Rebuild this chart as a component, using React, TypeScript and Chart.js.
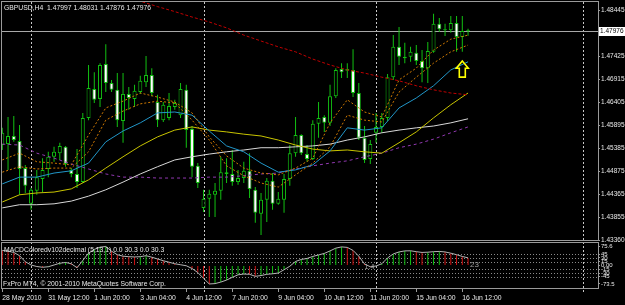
import React, { useEffect, useRef } from 'react';
import { Chart, registerables } from 'chart.js';

Chart.register(...registerables);

const FONT = '"Liberation Sans", Arial, sans-serif';
const TEXT = '#e8e8e8';
const FRAME = '#9a9a9a';
const CANDLE = '#12c012';

const titleText = 'GBPUSD,H4  1.47997 1.48031 1.47876 1.47976';
const macdTitle = 'MACDColoredv102decimal (5,13,1) 0.0 30.3 0.0 30.3';
const copyright = 'FxPro MT4, \u00a9 2001-2010 MetaQuotes Software Corp.';

// H4 bars, index 0 = 28 May 2010 04:00
const opens = [
  1.4546, 1.4548, 1.4566, 1.4555, 1.4495, 1.4416, 1.4445, 1.4471, 1.4493, 1.4520,
  1.4528, 1.4542, 1.4491, 1.4482, 1.4464, 1.4606, 1.4670, 1.4648, 1.4725, 1.4683,
  1.4668, 1.4599, 1.4659, 1.4648, 1.4663, 1.4685, 1.4701, 1.4641, 1.4601, 1.4606,
  1.4630, 1.4612, 1.4668, 1.4582, 1.4500, 1.4407, 1.4427, 1.4436, 1.4445, 1.4486,
  1.4482, 1.4464, 1.4473, 1.4489, 1.4447, 1.4394, 1.4425, 1.4467, 1.4416, 1.4425,
  1.4471, 1.4528, 1.4568, 1.4526, 1.4515, 1.4593, 1.4608, 1.4595, 1.4654, 1.4714,
  1.4714, 1.4712, 1.4661, 1.4562, 1.4515, 1.4573, 1.4586, 1.4606, 1.4696, 1.4763,
  1.4738, 1.4741, 1.4750, 1.4732, 1.4716, 1.4752, 1.4814, 1.4802, 1.4800, 1.4816,
  1.4785, 1.47997,
];
const highs = [
  1.4584, 1.4608, 1.4610, 1.4590, 1.4502, 1.4451, 1.4491, 1.4517, 1.4531, 1.4542,
  1.4551, 1.4544, 1.4495, 1.4537, 1.4617, 1.4723, 1.4707, 1.4727, 1.4769, 1.4690,
  1.4705, 1.4705, 1.4674, 1.4679, 1.4699, 1.4743, 1.4716, 1.4657, 1.4641, 1.4661,
  1.4646, 1.4683, 1.4679, 1.4588, 1.4506, 1.4447, 1.4447, 1.4462, 1.4520, 1.4517,
  1.4535, 1.4491, 1.4509, 1.4528, 1.4453, 1.4440, 1.4473, 1.4484, 1.4442, 1.4482,
  1.4546, 1.4608, 1.4570, 1.4546, 1.4601, 1.4641, 1.4612, 1.4679, 1.4716, 1.4727,
  1.4727, 1.4758, 1.4683, 1.4588, 1.4557, 1.4617, 1.4617, 1.4703, 1.4789, 1.4807,
  1.4772, 1.4763, 1.4767, 1.4756, 1.4774, 1.4836, 1.4827, 1.4814, 1.4831, 1.4831,
  1.4831, 1.48031,
];
const lows = [
  1.4535, 1.4491, 1.4553, 1.4436, 1.4440, 1.4403, 1.4436, 1.4442, 1.4475, 1.4509,
  1.4513, 1.4498, 1.4475, 1.4451, 1.4462, 1.4601, 1.4639, 1.4630, 1.4663, 1.4663,
  1.4586, 1.4551, 1.4624, 1.4630, 1.4659, 1.4674, 1.4654, 1.4586, 1.4597, 1.4601,
  1.4624, 1.4606, 1.4540, 1.4475, 1.4451, 1.4398, 1.4387, 1.4387, 1.4425, 1.4462,
  1.4456, 1.4458, 1.4462, 1.4429, 1.4374, 1.4347, 1.4376, 1.4403, 1.4414, 1.4396,
  1.4456, 1.4520, 1.4524, 1.4509, 1.4513, 1.4562, 1.4575, 1.4588, 1.4650, 1.4694,
  1.4694, 1.4652, 1.4557, 1.4506, 1.4504, 1.4551, 1.4573, 1.4599, 1.4690, 1.4723,
  1.4727, 1.4730, 1.4723, 1.4685, 1.4683, 1.4750, 1.4796, 1.4787, 1.4794, 1.4752,
  1.4752, 1.47876,
];
const closes = [
  1.4573, 1.4566, 1.4557, 1.4493, 1.4456, 1.4447, 1.4475, 1.4491, 1.4520, 1.4531,
  1.4544, 1.4504, 1.4482, 1.4464, 1.4606, 1.4672, 1.4646, 1.4723, 1.4683, 1.4668,
  1.4601, 1.4659, 1.4650, 1.4666, 1.4688, 1.4701, 1.4661, 1.4601, 1.4635, 1.4632,
  1.4639, 1.4670, 1.4579, 1.4498, 1.4462, 1.4427, 1.4438, 1.4445, 1.4486, 1.4482,
  1.4464, 1.4473, 1.4489, 1.4449, 1.4396, 1.4425, 1.4467, 1.4416, 1.4427, 1.4471,
  1.4528, 1.4568, 1.4528, 1.4515, 1.4593, 1.4606, 1.4595, 1.4654, 1.4712, 1.4707,
  1.4710, 1.4661, 1.4562, 1.4513, 1.4548, 1.4586, 1.4606, 1.4696, 1.4763, 1.4741,
  1.4741, 1.4752, 1.4732, 1.4716, 1.4754, 1.4814, 1.4802, 1.4800, 1.4816, 1.4785,
  1.4798, 1.47976,
];

// indicator lines, sampled at these bar indices
const maBars = [0, 3, 6, 9, 12, 15, 18, 21, 24, 27, 30, 33, 36, 39, 42, 45, 48, 51, 54, 57, 60, 63, 66, 69, 72, 75, 78, 81];
const maCyan = [1.4460, 1.4475, 1.4475, 1.4484, 1.4489, 1.4506, 1.4553, 1.4577, 1.4595, 1.4617, 1.4619, 1.4612, 1.4577, 1.4544, 1.4531, 1.4506, 1.4486, 1.4491, 1.4502, 1.4533, 1.4584, 1.4579, 1.4584, 1.4628, 1.4650, 1.4677, 1.4712, 1.4730];
const maYellow = [1.4420, 1.4436, 1.4440, 1.4442, 1.4449, 1.4469, 1.4495, 1.4520, 1.4544, 1.4564, 1.4579, 1.4586, 1.4579, 1.4575, 1.4570, 1.4566, 1.4557, 1.4546, 1.4537, 1.4533, 1.4535, 1.4531, 1.4528, 1.4551, 1.4575, 1.4606, 1.4635, 1.4661];
const maWhite = [1.4407, 1.4414, 1.4414, 1.4416, 1.4422, 1.4433, 1.4447, 1.4464, 1.4482, 1.4498, 1.4513, 1.4520, 1.4526, 1.4531, 1.4535, 1.4540, 1.4540, 1.4542, 1.4544, 1.4548, 1.4557, 1.4564, 1.4573, 1.4579, 1.4584, 1.4588, 1.4595, 1.4604];
const maPurple = [1.4548, 1.4546, 1.4528, 1.4517, 1.4504, 1.4493, 1.4482, 1.4475, 1.4475, 1.4473, 1.4473, 1.4473, 1.4475, 1.4475, 1.4478, 1.4482, 1.4484, 1.4493, 1.4500, 1.4506, 1.4511, 1.4520, 1.4528, 1.4540, 1.4548, 1.4559, 1.4573, 1.4586];
const maRed = [null, null, null, null, null, null, null, 1.4875, 1.4864, 1.4852, 1.4841, 1.4829, 1.4818, 1.4805, 1.4789, 1.4776, 1.4763, 1.4752, 1.4736, 1.4723, 1.4712, 1.4705, 1.4696, 1.4688, 1.4677, 1.4668, 1.4661, 1.4657];
const bandUpper = [1.4513, 1.4528, 1.4509, 1.4506, 1.4502, 1.4568, 1.4628, 1.4643, 1.4661, 1.4652, 1.4641, 1.4617, 1.4564, 1.4522, 1.4495, 1.4484, 1.4480, 1.4495, 1.4517, 1.4595, 1.4646, 1.4619, 1.4608, 1.4690, 1.4716, 1.4756, 1.4780, 1.4789];
const bandLower = [1.4486, 1.4498, 1.4493, 1.4495, 1.4495, 1.4531, 1.4601, 1.4621, 1.4637, 1.4643, 1.4639, 1.4601, 1.4557, 1.4500, 1.4478, 1.4462, 1.4453, 1.4480, 1.4506, 1.4542, 1.4612, 1.4601, 1.4597, 1.4663, 1.4696, 1.4727, 1.4752, 1.4767];

const macdValues = [
  60, 57, 52, 39, 15, 2, -4, -7, -5, 2,
  9, 12, 7, -9, 20, 49, 64, 73, 75.6, 57,
  43, 37, 35, 34, 35, 39, 33, 26, 19, 13,
  7, 3, -1, -12, -28, -51, -73.5, -72, -66, -58,
  -47, -37, -34, -35, -43, -40, -35, -33, -30, -17,
  -3, 16, 24, 28, 36, 42, 48, 58, 69, 74,
  72, 60, 37, 6, -5, -2, 7, 30, 46, 54,
  58, 58.5, 55, 52, 53, 55, 56, 54, 49, 43,
  36, 30.3,
];
const macdTicks = [75.6, 45, 30, 15, 0, -15, -30, -45, -73.5];
const macdLevels = [45, 30, 15, -15, -30, -45];

const tickBars = [0, 8, 16, 24, 32, 40, 48, 56, 64, 72, 80];
const tickLabels = ['28 May 2010', '31 May 12:00', '1 Jun 20:00', '3 Jun 04:00', '4 Jun 12:00', '7 Jun 20:00', '9 Jun 04:00', '10 Jun 12:00', '11 Jun 20:00', '15 Jun 04:00', '16 Jun 12:00'];
const priceTicks = [1.48445, 1.47425, 1.46915, 1.46405, 1.45895, 1.45385, 1.44875, 1.44365, 1.43855, 1.4336];
const separatorBars = [5, 35, 65, 101];
const bidPrice = 1.47976;
const arrowBar = 80;
const arrowTip = 1.4732;
const arrowBase = 1.4696;

const X_MIN = -0.05;
const X_MAX = 103.6;
const Y_MIN = 1.4336;
const Y_MAX = 1.48622;

const barIdx = opens.map((_, i) => i);
const lineData = (vals: (number | null)[]) => maBars.map((b, k) => ({ x: b, y: vals[k] }));

function font(size: number) {
  return `${size}px ${FONT}`;
}

function noPad(s: any) {
  s.paddingTop = 0;
  s.paddingBottom = 0;
  s.paddingLeft = 0;
  s.paddingRight = 0;
}

function drawSeparators(chart: any, y0: number, y1: number) {
  const { ctx, scales } = chart;
  ctx.save();
  ctx.strokeStyle = '#c8c8c8';
  ctx.lineWidth = 1;
  ctx.setLineDash([2, 2]);
  separatorBars.forEach((b) => {
    const px = Math.round(scales.x.getPixelForValue(b)) + 0.5;
    ctx.beginPath();
    ctx.moveTo(px, y0);
    ctx.lineTo(px, y1);
    ctx.stroke();
  });
  ctx.restore();
}

const mainDecor = {
  id: 'mainDecor',
  beforeDatasetsDraw(chart: any) {
    const { ctx, chartArea: a, scales } = chart;
    drawSeparators(chart, a.top, chart.height);
    ctx.save();
    const by = Math.round(scales.y.getPixelForValue(bidPrice)) + 0.5;
    ctx.strokeStyle = '#a8a8a8';
    ctx.lineWidth = 1;
    ctx.beginPath();
    ctx.moveTo(a.left, by);
    ctx.lineTo(a.right, by);
    ctx.stroke();
    ctx.restore();
  },
  afterDraw(chart: any) {
    const { ctx, chartArea: a, scales } = chart;
    ctx.save();
    ctx.strokeStyle = FRAME;
    ctx.lineWidth = 1;
    ctx.strokeRect(a.left - 0.5, a.top - 0.5, a.right - a.left + 1, a.bottom - a.top + 1);

    // bid label
    const by = scales.y.getPixelForValue(bidPrice);
    ctx.fillStyle = '#ffffff';
    ctx.fillRect(a.right + 1, Math.round(by) - 4, chart.width - a.right - 1, 9);
    ctx.fillStyle = '#000000';
    ctx.font = font(6.5);
    ctx.textBaseline = 'middle';
    ctx.textAlign = 'left';
    ctx.fillText(bidPrice.toFixed(5), a.right + 2, Math.round(by) + 0.5);

    // title
    ctx.fillStyle = TEXT;
    ctx.font = font(6.8);
    ctx.fillText(titleText, 4, 8.5);

    // arrow
    const ax = scales.x.getPixelForValue(arrowBar);
    const tipY = scales.y.getPixelForValue(arrowTip);
    const baseY = scales.y.getPixelForValue(arrowBase);
    const headY = tipY + (baseY - tipY) * 0.45;
    ctx.strokeStyle = '#ffff00';
    ctx.lineWidth = 1.6;
    ctx.beginPath();
    ctx.moveTo(ax, tipY);
    ctx.lineTo(ax + 6, headY);
    ctx.lineTo(ax + 3, headY);
    ctx.lineTo(ax + 3, baseY);
    ctx.lineTo(ax - 3, baseY);
    ctx.lineTo(ax - 3, headY);
    ctx.lineTo(ax - 6, headY);
    ctx.closePath();
    ctx.stroke();
    ctx.restore();
  },
};

const macdDecor = {
  id: 'macdDecor',
  beforeDatasetsDraw(chart: any) {
    const { ctx, chartArea: a, scales } = chart;
    drawSeparators(chart, 0, a.bottom + 5);
    ctx.save();
    ctx.strokeStyle = '#8a8a8a';
    ctx.lineWidth = 1;
    ctx.setLineDash([1, 2]);
    macdLevels.forEach((v) => {
      const py = Math.round(scales.y.getPixelForValue(v)) + 0.5;
      ctx.beginPath();
      ctx.moveTo(a.left, py);
      ctx.lineTo(a.right, py);
      ctx.stroke();
    });
    ctx.restore();
  },
  afterDraw(chart: any) {
    const { ctx, chartArea: a, scales } = chart;
    ctx.save();
    ctx.strokeStyle = FRAME;
    ctx.lineWidth = 1;
    ctx.strokeRect(a.left - 0.5, a.top - 0.5, a.right - a.left + 1, a.bottom - a.top + 1);
    ctx.fillStyle = TEXT;
    ctx.font = font(6.8);
    ctx.textBaseline = 'middle';
    ctx.textAlign = 'left';
    ctx.fillText(macdTitle, 4, a.top + 7);
    ctx.fillText(copyright, 3, a.bottom - 4);
    ctx.fillStyle = '#a0a0a0';
    ctx.font = font(8);
    const lastIdx = macdValues.length - 1;
    ctx.fillText('23', scales.x.getPixelForValue(lastIdx) + 2, scales.y.getPixelForValue(0) - 1);
    ctx.font = font(7);
    ctx.fillText('1.4', scales.x.getPixelForValue(63), scales.y.getPixelForValue(-6));
    ctx.restore();
  },
};

export default function App() {
  const mainRef = useRef<HTMLCanvasElement>(null);
  const macdRef = useRef<HTMLCanvasElement>(null);

  useEffect(() => {
    Chart.defaults.font.family = FONT;
    const wickData = barIdx.map((i) => ({ x: i, y: [lows[i], highs[i]] }));
    const bodyData = barIdx.map((i) => ({ x: i, y: [opens[i], closes[i]] }));
    const bodyFill = barIdx.map((i) => (closes[i] < opens[i] ? '#ffffff' : '#000000'));

    const main = new Chart(mainRef.current as HTMLCanvasElement, {
      type: 'bar',
      data: {
        datasets: [
          { type: 'line', data: lineData(maRed), borderColor: '#c00000', borderWidth: 1, borderDash: [3, 2], pointRadius: 0, order: 0 } as any,
          { type: 'line', data: lineData(bandUpper), borderColor: '#d07a00', borderWidth: 1, borderDash: [2, 2], pointRadius: 0, order: 0 } as any,
          { type: 'line', data: lineData(bandLower), borderColor: '#d07a00', borderWidth: 1, borderDash: [2, 2], pointRadius: 0, order: 0 } as any,
          { type: 'line', data: lineData(maCyan), borderColor: '#2196c8', borderWidth: 1, pointRadius: 0, order: 0 } as any,
          { type: 'line', data: lineData(maYellow), borderColor: '#c8c400', borderWidth: 1, pointRadius: 0, order: 0 } as any,
          { type: 'line', data: lineData(maWhite), borderColor: '#d8d8d8', borderWidth: 1, pointRadius: 0, order: 0 } as any,
          { type: 'line', data: lineData(maPurple), borderColor: '#9038b0', borderWidth: 1, borderDash: [3, 3], pointRadius: 0, order: 0 } as any,
          { type: 'bar', data: bodyData, backgroundColor: bodyFill, borderColor: CANDLE, borderWidth: 1, borderSkipped: false, barThickness: 4, maxBarThickness: 4, grouped: false, inflateAmount: 0, order: 1 } as any,
          { type: 'bar', data: wickData, backgroundColor: CANDLE, borderWidth: 0, barThickness: 1, maxBarThickness: 1, grouped: false, inflateAmount: 0, order: 2 } as any,
        ],
      },
      options: {
        responsive: false,
        animation: false,
        devicePixelRatio: 1,
        events: [],
        layout: { padding: { left: 2, top: 2, right: 0, bottom: 6 } },
        plugins: { legend: { display: false }, tooltip: { enabled: false } },
        scales: {
          x: { type: 'linear', min: X_MIN, max: X_MAX, offset: false, display: false },
          y: {
            type: 'linear',
            position: 'right',
            min: Y_MIN,
            max: Y_MAX,
            afterBuildTicks: (s: any) => { s.ticks = priceTicks.map((v) => ({ value: v })); },
            afterFit: (s: any) => { s.width = 27; noPad(s); },
            ticks: { color: TEXT, font: { size: 6.5, family: FONT }, padding: 1, autoSkip: false, callback: (v: any) => Number(v).toFixed(5) },
            grid: { drawOnChartArea: false, drawTicks: true, tickLength: 2, color: FRAME },
            border: { display: false },
          },
        },
      } as any,
      plugins: [mainDecor],
    });

    const macdColors = macdValues.map((v, i) => (i > 0 && v >= macdValues[i - 1] ? '#10c010' : '#d01010'));
    const macdData = macdValues.map((v, i) => ({ x: i, y: v }));

    const macd = new Chart(macdRef.current as HTMLCanvasElement, {
      type: 'bar',
      data: {
        datasets: [
          { type: 'line', data: macdData, borderColor: '#b4b4b4', borderWidth: 1, pointRadius: 0, order: 0 } as any,
          { type: 'bar', data: macdData, backgroundColor: macdColors, borderWidth: 0, barThickness: 1, maxBarThickness: 1, grouped: false, inflateAmount: 0, order: 1 } as any,
        ],
      },
      options: {
        responsive: false,
        animation: false,
        devicePixelRatio: 1,
        events: [],
        layout: { padding: { left: 2, top: 1, right: 0, bottom: 0 } },
        plugins: { legend: { display: false }, tooltip: { enabled: false } },
        scales: {
          x: {
            type: 'linear',
            min: X_MIN,
            max: X_MAX,
            offset: false,
            afterBuildTicks: (s: any) => { s.ticks = tickBars.map((v) => ({ value: v })); },
            afterFit: (s: any) => { s.height = 17; noPad(s); },
            ticks: {
              color: TEXT,
              font: { size: 6.8, family: FONT },
              autoSkip: false,
              maxRotation: 0,
              align: 'start',
              padding: 2,
              callback: (v: any) => tickLabels[tickBars.indexOf(Number(v))] ?? '',
            },
            grid: { drawOnChartArea: false, drawTicks: true, tickLength: 4, color: FRAME, offset: false },
            border: { display: false },
          },
          y: {
            type: 'linear',
            position: 'right',
            min: -89.5,
            max: 89.5,
            afterBuildTicks: (s: any) => { s.ticks = macdTicks.map((v) => ({ value: v })); },
            afterFit: (s: any) => { s.width = 27; noPad(s); },
            ticks: {
              color: TEXT,
              font: { size: 6, family: FONT },
              padding: 1,
              autoSkip: false,
              callback: (v: any) => {
                const n = Number(v);
                if (n === 0) return '0.00';
                return Number.isInteger(n) ? String(n) : n.toFixed(1);
              },
            },
            grid: { drawOnChartArea: false, drawTicks: true, tickLength: 2, color: FRAME },
            border: { display: false },
          },
        },
      } as any,
      plugins: [macdDecor],
    });

    return () => {
      main.destroy();
      macd.destroy();
    };
  }, []);

  return (
    <div style={{ position: 'fixed', left: 0, top: 0, width: 625, height: 305, background: '#000000', overflow: 'hidden' }}>
      <canvas ref={mainRef} width={625} height={246} style={{ position: 'absolute', left: 0, top: 0 }} />
      <canvas ref={macdRef} width={625} height={63} style={{ position: 'absolute', left: 0, top: 242 }} />
    </div>
  );
}
